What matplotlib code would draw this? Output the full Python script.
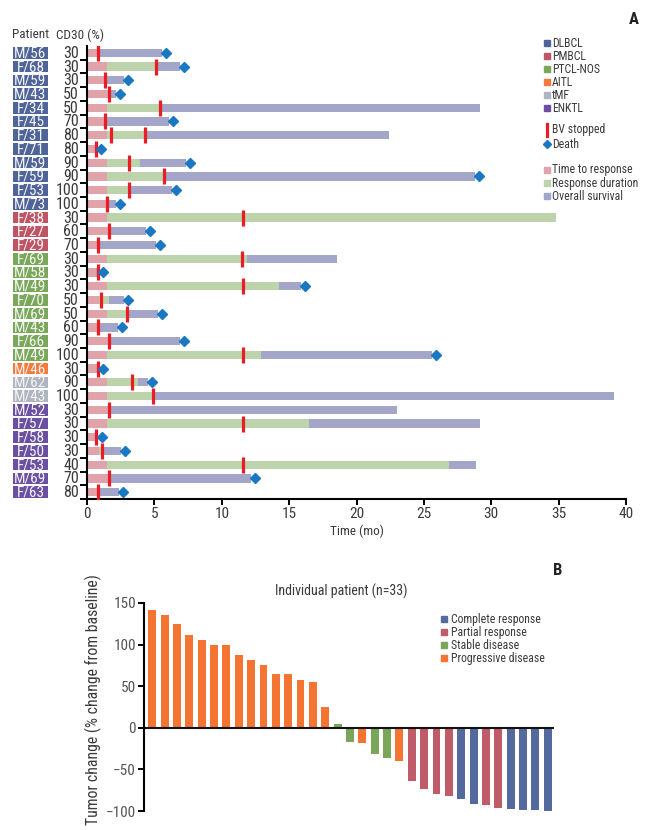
import matplotlib
matplotlib.use("Agg")
import matplotlib.pyplot as plt
from matplotlib.patches import Rectangle
from matplotlib.transforms import blended_transform_factory, ScaledTranslation

plt.rcParams['font.family'] = ['Roboto Condensed', 'Archivo Narrow', 'PT Sans Narrow',
                               'Liberation Sans Narrow', 'DejaVu Sans']

# ---- panel A data ----
patients = ['M/56', 'F/68', 'M/59', 'M/43', 'F/34', 'F/45', 'F/31', 'F/71', 'M/59', 'F/59', 'F/53',
            'M/73', 'F/38', 'F/27', 'F/29', 'F/69', 'M/58', 'M/49', 'F/70', 'M/69', 'M/43', 'F/66',
            'M/49', 'M/46', 'M/62', 'M/43', 'M/52', 'F/57', 'F/58', 'F/50', 'F/53', 'M/69', 'F/63']
cd30 = [30, 30, 30, 50, 50, 70, 80, 80, 90, 90, 100, 100, 30, 60, 70, 30, 30, 30, 50, 50, 60, 90,
        100, 30, 90, 100, 30, 30, 30, 30, 40, 70, 80]
subtype = [0]*12 + [1]*3 + [2]*8 + [3] + [4]*2 + [5]*7
subtypes = ['DLBCL', 'PMBCL', 'PTCL-NOS', 'AITL', 'tMF', 'ENKTL']
subtype_colors = ['#4f6499', '#c05464', '#7aa859', '#f47a3c', '#aeb4c0', '#6b4fa2']

time_to_response = [0.85, 1.46, 1.31, 1.66, 1.46, 1.34, 1.46, 0.67, 1.46, 1.46, 1.46, 1.51, 1.46,
                    1.61, 0.84, 1.46, 0.7, 1.46, 0.89, 1.46, 0.84, 1.6, 1.46, 0.84, 1.46, 1.46,
                    1.58, 1.46, 0.56, 0.89, 1.46, 1.58, 0.84]
response_end = [None, 5.12, None, None, 5.44, None, 4.3, None, 3.93, 5.79, 3.19, None, 34.84,
                None, None, 11.85, None, 14.27, 1.63, 2.94, None, None, 12.9, None, 3.81, 4.87,
                None, 16.5, None, 1.09, 26.9, None, None]
overall_survival = [5.56, 6.9, 2.75, 2.15, 29.15, 6.08, 22.4, 0.72, 7.34, 28.8, 6.31, 2.15, 34.84,
                    4.38, 5.12, 18.52, 0.9, 15.88, 2.72, 5.29, 2.27, 6.9, 25.64, 0.86, 4.55, 39.1,
                    22.97, 29.2, 0.8, 2.52, 28.9, 12.2, 2.4]
bv_stopped = [[0.85], [5.1], [1.31], [1.66], [5.44], [1.34], [1.78, 4.3], [0.67], [3.09], [5.69],
              [3.14], [1.51], [11.55], [1.61], [0.84], [11.47], [0.82], [11.55], [1.01], [2.94],
              [0.84], [1.63], [11.55], [0.84], [3.31], [4.87], [1.63], [11.55], [0.64], [1.09],
              [11.55], [1.63], [0.84]]
death = [1, 1, 1, 1, 0, 1, 0, 1, 1, 1, 1, 1, 0, 1, 1, 0, 1, 1, 1, 1, 1, 1, 1, 1, 1, 0, 0, 0, 1, 1,
         0, 1, 1]

# ---- panel B data ----
tumor_change = [142, 135, 125, 112, 106, 100, 99, 87, 81, 75, 65, 65, 57, 55, 25, 5, -17, -18,
                -32, -36, -40, -64, -74, -80, -82, -86, -91, -93, -96, -98, -99, -99, -100]
best_response = ['PD']*15 + ['SD', 'SD', 'PD', 'SD', 'SD', 'PD', 'PR', 'PR', 'PR', 'PR', 'CR',
                             'CR', 'PR', 'PR', 'CR', 'CR', 'CR', 'CR']
response_names = {'CR': 'Complete response', 'PR': 'Partial response',
                  'SD': 'Stable disease', 'PD': 'Progressive disease'}
response_colors = {'CR': '#546a9d', 'PR': '#c05c6a', 'SD': '#7aa65a', 'PD': '#f47432'}

pink, green, lav = '#e0a3a9', '#bdd3ab', '#a3a5c9'
red, blue = '#ec1c24', '#1a78c2'
txt = '#3a3a3a'

W, H = 657, 830
fig = plt.figure(figsize=(W/100, H/100), dpi=100)

# ---------------- panel A ----------------
ax = fig.add_axes([87/W, 1 - 499/H, 539/W, 453/H])
n = len(patients)
rows = list(range(n))
bh = 0.6
off = ScaledTranslation(4/100, 0, fig.dpi_scale_trans)
for i in rows:
    t0 = time_to_response[i]
    ax.barh(i, t0, height=bh, color=pink, edgecolor='none')
    start = t0
    if response_end[i] is not None:
        ax.barh(i, response_end[i] - t0, left=t0, height=bh, color=green, edgecolor='none')
        start = response_end[i]
    if overall_survival[i] > start:
        ax.barh(i, overall_survival[i] - start, left=start, height=bh, color=lav, edgecolor='none')
    for b in bv_stopped[i]:
        ax.plot([b], [i], marker='|', ms=12, mew=2.3, color=red, zorder=5)
    if death[i]:
        ax.plot([overall_survival[i]], [i], marker='D', ms=5, color=blue, mec=blue,
                transform=ax.transData + off, zorder=6, clip_on=False)

ax.set_xlim(0, 40)
ax.set_ylim(n - 0.5, -0.5)
ax.set_yticks([r + 0.5 for r in rows])
ax.set_yticklabels([])
ax.tick_params(axis='y', length=5, width=1.4, direction='out')
ax.tick_params(axis='x', length=4, width=1.4, direction='out', labelsize=11, labelcolor=txt, pad=2)
ax.set_xticks(range(0, 41, 5))
for s in ['top', 'right']:
    ax.spines[s].set_visible(False)
for s in ['left', 'bottom']:
    ax.spines[s].set_linewidth(1.5)
ax.set_xlabel('Time (mo)', fontsize=9.5, color=txt, labelpad=2)

tr = blended_transform_factory(ax.transAxes, ax.transData)
bx0 = (13 - 87) / 539
bw = 35 / 539
for i in rows:
    ax.add_patch(Rectangle((bx0, i - 0.42), bw, 0.84, transform=tr, clip_on=False,
                           facecolor=subtype_colors[subtype[i]], edgecolor='none'))
    ax.text(bx0 + bw / 2, i + 0.03, patients[i], transform=tr, ha='center', va='center',
            color='#f4f4f4', fontsize=11)
    ax.text((79 - 87) / 539, i + 0.03, str(cd30[i]), transform=tr, ha='right', va='center',
            color=txt, fontsize=11.5)

# overlay in pixel coordinates for headers and legends
ov = fig.add_axes([0, 0, 1, 1], zorder=10)
ov.set_xlim(0, W)
ov.set_ylim(H, 0)
ov.axis('off')

ov.text(12, 35, 'Patient', fontsize=9.5, color=txt, va='center')
ov.text(56, 35, 'CD30 (%)', fontsize=9.5, color=txt, va='center')
ov.text(629, 20, 'A', fontsize=12, fontweight='bold', color='#222', va='center')

lfs = 8.5
for k, (name, c) in enumerate(zip(subtypes, subtype_colors)):
    y = 43.3 + 13.0 * k
    ov.plot(546.5, y, 's', ms=4, color=c)
    ov.text(552, y, name, fontsize=lfs, color=txt, va='center')
ov.plot([546.5, 546.5], [124, 136], color=red, lw=2.3)
ov.text(552, 130, 'BV stopped', fontsize=lfs, color=txt, va='center')
ov.plot(546.5, 144, 'D', ms=4.5, color=blue)
ov.text(552, 144, 'Death', fontsize=lfs, color=txt, va='center')
for k, (name, c) in enumerate(zip(['Time to response', 'Response duration', 'Overall survival'],
                                  [pink, green, lav])):
    y = 170 + 13.0 * k
    ov.plot(546.5, y, 's', ms=4, color=c)
    ov.text(552, y, name, fontsize=lfs, color=txt, va='center')

# ---------------- panel B ----------------
axb = fig.add_axes([144.3/W, 1 - 811/H, 410/W, 208/H])
xs = list(range(len(tumor_change)))
axb.bar(xs, tumor_change, width=0.64, color=[response_colors[r] for r in best_response],
        edgecolor='none')
axb.axhline(0, color='#111', lw=1.5)
axb.set_xlim(-0.64, len(xs) - 0.47)
axb.set_ylim(-100, 150)
axb.set_yticks([-100, -50, 0, 50, 100, 150])
axb.set_yticklabels(['\u2212100', '\u221250', '0', '50', '100', '150'])
axb.set_xticks([])
for s in ['top', 'right', 'bottom']:
    axb.spines[s].set_visible(False)
axb.spines['left'].set_linewidth(1.5)
axb.tick_params(axis='y', length=4, width=1.4, labelsize=11, labelcolor='#555', pad=2)
axb.set_ylabel('Tumor change (% change from baseline)', fontsize=11.3, color=txt)
axb.yaxis.set_label_coords((102 - 144.3) / 410, (811 - 700) / 208)

ov.text(341, 591, 'Individual patient (n=33)', fontsize=10, color=txt, ha='center', va='center')
ov.text(553, 570, 'B', fontsize=12, fontweight='bold', color='#222', va='center')
for k, key in enumerate(['CR', 'PR', 'SD', 'PD']):
    y = 619.3 + 12.9 * k
    ov.plot(444, y, 's', ms=4, color=response_colors[key])
    ov.text(451, y, response_names[key], fontsize=lfs, color=txt, va='center')

fig.savefig('out.png', dpi=100)
